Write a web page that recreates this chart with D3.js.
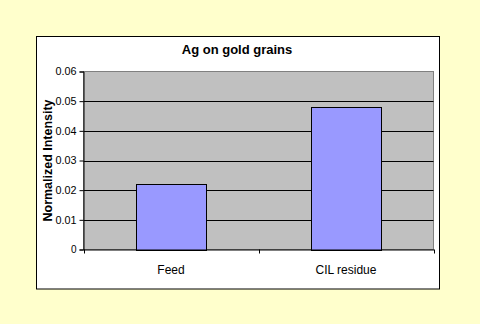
<!DOCTYPE html>
<html>
<head>
<meta charset="utf-8">
<script src="https://cdn.jsdelivr.net/npm/d3@7"></script>
<style>
  html, body { margin: 0; padding: 0; background: #FFFFCC; }
  svg { display: block; }
  text { font-family: "Liberation Sans", Arial, sans-serif; }
</style>
</head>
<body>
<svg id="chart" width="480" height="324"></svg>
<script>
// Chart data
const categories = ["Feed", "CIL residue"];
const values = [0.022, 0.048];
const yTicks = [0, 0.01, 0.02, 0.03, 0.04, 0.05, 0.06];
const titleText = "Ag on gold grains";
const yTitle = "Normalized Intensity";

const svg = d3.select("#chart");

// Chart panel (white box with black border)
svg.append("rect")
  .attr("x", 36.5).attr("y", 36.5)
  .attr("width", 403).attr("height", 252.5)
  .attr("fill", "#FFFFFF").attr("stroke", "#000000").attr("stroke-width", 1);

const plot = { left: 83.5, right: 433.5, top: 71.5, bottom: 249.5 };

const x = d3.scaleBand()
  .domain(categories)
  .range([plot.left, plot.right])
  .paddingInner(0.6).paddingOuter(0.3);

const y = d3.scaleLinear()
  .domain([0, 0.06])
  .range([plot.bottom, plot.top]);

// Plot area background
svg.append("rect")
  .attr("x", plot.left).attr("y", plot.top)
  .attr("width", plot.right - plot.left).attr("height", plot.bottom - plot.top)
  .attr("fill", "#C0C0C0").attr("stroke", "#808080").attr("stroke-width", 1);

// Horizontal gridlines
svg.append("g")
  .selectAll("line")
  .data(yTicks.filter(d => d > 0 && d < 0.06))
  .join("line")
  .attr("x1", plot.left).attr("x2", plot.right)
  .attr("y1", d => Math.round(y(d)) + 0.5).attr("y2", d => Math.round(y(d)) + 0.5)
  .attr("stroke", "#000000").attr("stroke-width", 1);

// Bars
svg.append("g")
  .selectAll("rect")
  .data(categories.map((c, i) => ({ c, v: values[i] })))
  .join("rect")
  .attr("x", d => Math.round(x(d.c)) + 0.5)
  .attr("y", d => Math.round(y(d.v)) + 0.5)
  .attr("width", x.bandwidth())
  .attr("height", d => Math.round(y(0)) - Math.round(y(d.v)))
  .attr("fill", "#9999FF").attr("stroke", "#000000").attr("stroke-width", 1);

// Y axis
const yAxis = d3.axisLeft(y)
  .tickValues(yTicks)
  .tickFormat(d => d === 0 ? "0" : d3.format(".2f")(d))
  .tickSize(4).tickPadding(3);
const gy = svg.append("g")
  .attr("transform", `translate(${plot.left},0)`)
  .call(yAxis);
gy.select(".domain").attr("stroke", "#000000");
gy.selectAll(".tick line").attr("stroke", "#000000");
gy.selectAll(".tick text")
  .attr("font-size", 10).attr("fill", "#000000")
  .attr("textLength", d => d === 0 ? null : 21)
  .attr("lengthAdjust", "spacingAndGlyphs");

// X axis: ticks sit on the band boundaries
const xAxis = d3.axisBottom(x).tickSize(0).tickPadding(16);
const gx = svg.append("g")
  .attr("transform", `translate(0,${plot.bottom})`)
  .call(xAxis);
gx.select(".domain").attr("stroke", "#000000");
gx.selectAll(".tick text").attr("font-size", 12).attr("fill", "#000000");
const step = (plot.right - plot.left) / categories.length;
gx.selectAll(".boundary")
  .data(d3.range(categories.length + 1))
  .join("line")
  .attr("class", "boundary")
  .attr("x1", i => Math.round(plot.left + i * step) + 0.5)
  .attr("x2", i => Math.round(plot.left + i * step) + 0.5)
  .attr("y1", 0).attr("y2", 4)
  .attr("stroke", "#000000");

// Title
svg.append("text")
  .attr("x", 237).attr("y", 54)
  .attr("text-anchor", "middle")
  .attr("font-size", 13).attr("font-weight", "bold")
  .text(titleText);

// Y axis title
svg.append("text")
  .attr("transform", `translate(52,${(plot.top + plot.bottom) / 2}) rotate(-90)`)
  .attr("text-anchor", "middle")
  .attr("font-size", 12).attr("font-weight", "bold")
  .attr("textLength", 122).attr("lengthAdjust", "spacingAndGlyphs")
  .text(yTitle);
</script>
</body>
</html>
